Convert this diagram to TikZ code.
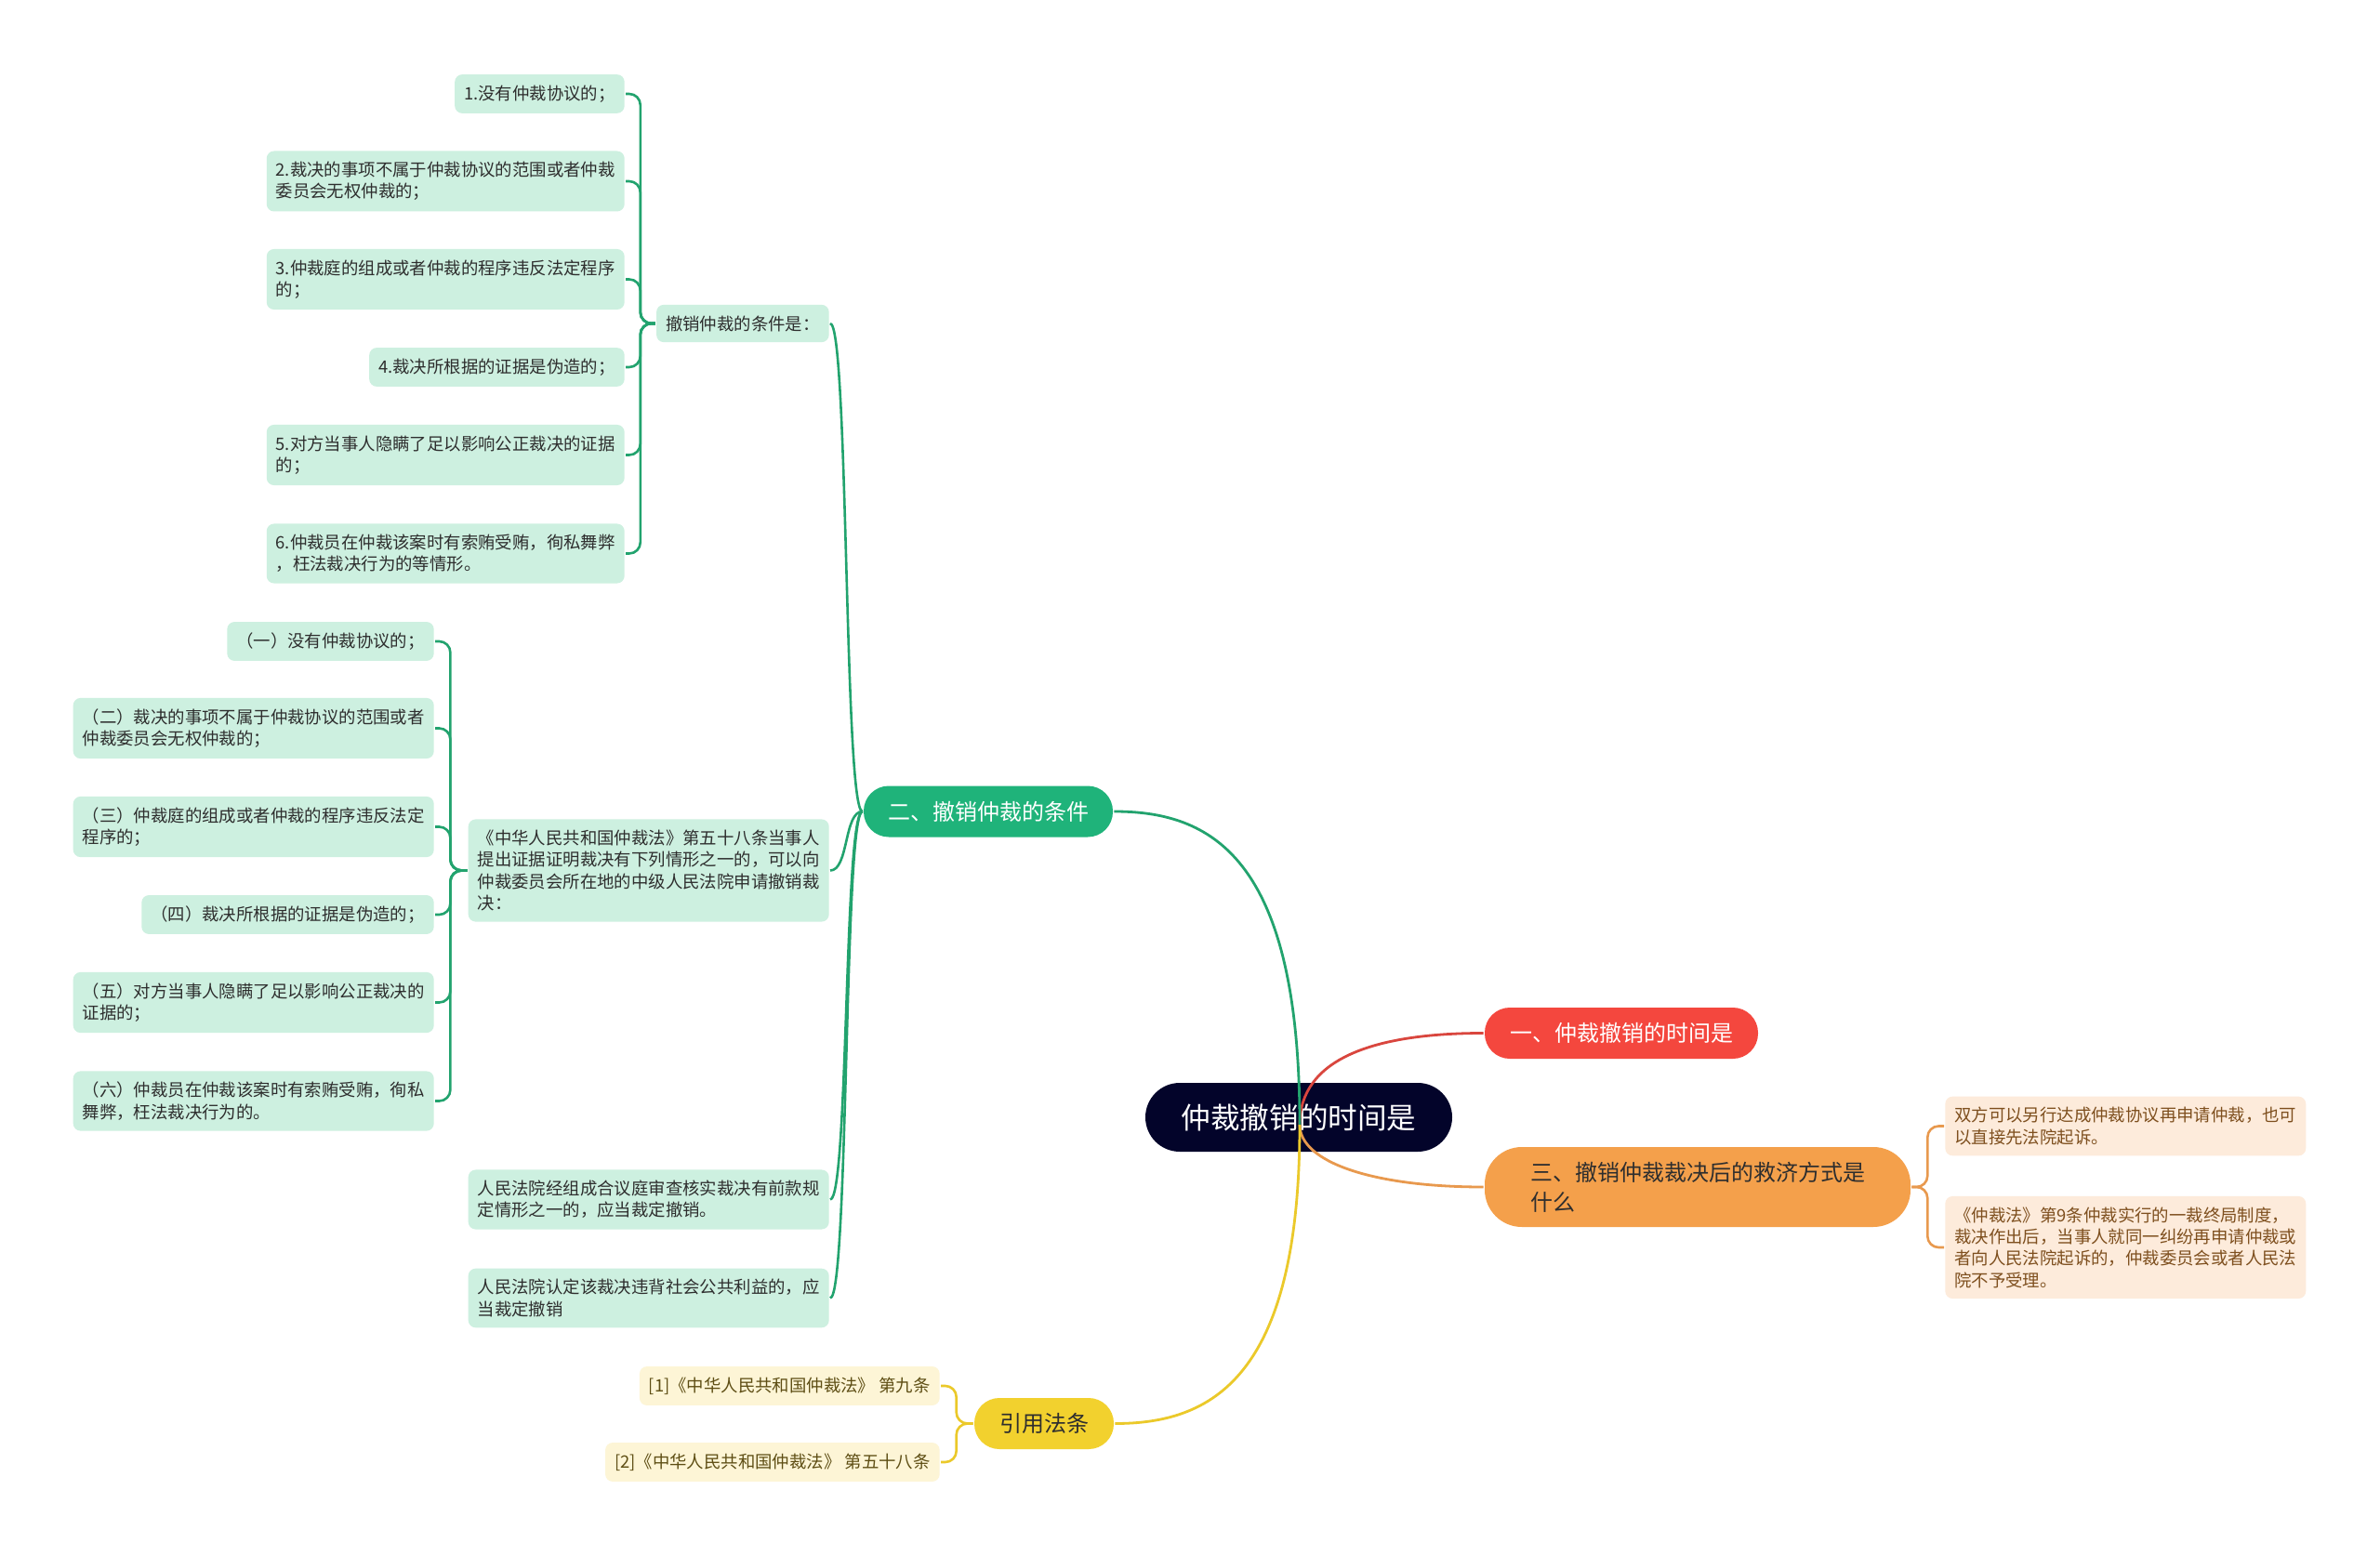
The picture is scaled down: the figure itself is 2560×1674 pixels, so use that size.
\documentclass[tikz,border=0pt]{standalone}
\usepackage{fontspec}
\setmainfont{Noto Sans CJK SC}
\usepackage{tikz}
\definecolor{topicblue}{HTML}{03042A}
\definecolor{secred}{HTML}{F4473E}
\definecolor{secgreen}{HTML}{1FB37A}
\definecolor{secorange}{HTML}{F4A04B}
\definecolor{secyellow}{HTML}{F2D12E}
\definecolor{leafgreen}{HTML}{CDF0E0}
\definecolor{leafpeach}{HTML}{FDEBDB}
\definecolor{leafyellow}{HTML}{FDF5D6}
\definecolor{linered}{HTML}{D9463E}
\definecolor{linegreen}{HTML}{22A36E}
\definecolor{lineorange}{HTML}{E8994E}
\definecolor{lineyellow}{HTML}{EBC92A}
\definecolor{darktext}{HTML}{2E2E2E}
\definecolor{browntext}{HTML}{7E4F1E}
\definecolor{olivetext}{HTML}{5E4E14}
\tikzset{topic/.style = {rectangle, rounded corners=18.5pt, fill=topicblue, text=white, minimum width=165pt, minimum height=37pt, font=\fontsize{15.8}{18}\selectfont}}
\tikzset{section/.style = {rectangle, rounded corners=13.5pt, minimum height=27.5pt, font=\fontsize{12}{16}\selectfont}}
\tikzset{leaf/.style = {rectangle, rounded corners=4pt, anchor=east, align=left, inner xsep=5pt, inner ysep=5.8pt, font=\fontsize{9.2}{11.65}\selectfont}}
\tikzset{greenleaf/.style = {leaf, fill=leafgreen, text=darktext}}
\tikzset{peachleaf/.style = {leaf, anchor=west, fill=leafpeach, text=browntext}}
\tikzset{yellowleaf/.style = {leaf, fill=leafyellow, text=olivetext}}
\tikzset{twig/.style = {rounded corners=6pt, to path={-- ++(#1,0) |- (\tikztotarget)}}}
\tikzset{sweep/.style = {to path={.. controls +(-20,0) and +(20,0) .. (\tikztotarget)}}}

\begin{document}
\begin{tikzpicture}[x=0.5pt, y=-0.5pt, line width=1.3pt]
  \useasboundingbox (0,0) rectangle (2560,1674);
  \fill[white] (0,0) rectangle (2560,1674);

  \node [topic] (root) at (1397,1202) {仲裁撤销的时间是};
  \coordinate (hub) at (1398,1210);

  \node [section, fill=secred, text=white, minimum width=147pt] (sec1) at (1744,1111.5) {一、仲裁撤销的时间是};
  \node [section, fill=secgreen, text=white, minimum width=134pt] (sec2) at (1063,873) {二、撤销仲裁的条件};
  \node [section, fill=secorange, text=darktext, minimum width=229pt, minimum height=43pt, rounded corners=20pt, align=left] (sec3) at (1826,1277) {三、撤销仲裁裁决后的救济方式是\\什么};
  \node [section, fill=secyellow, text=darktext, minimum width=75pt] (ref) at (1123,1531.5) {引用法条};

  \node [greenleaf] (cond) at (893,348) {撤销仲裁的条件是：};
  \node [greenleaf] (law) at (893,936.5) {《中华人民共和国仲裁法》第五十八条当事人\\提出证据证明裁决有下列情形之一的，可以向\\仲裁委员会所在地的中级人民法院申请撤销裁\\决：};
  \node [greenleaf] (court1) at (893,1290.5) {人民法院经组成合议庭审查核实裁决有前款规\\定情形之一的，应当裁定撤销。};
  \node [greenleaf] (court2) at (893,1396.5) {人民法院认定该裁决违背社会公共利益的，应\\当裁定撤销};

  \node [greenleaf] (c1) at (673,101) {1.没有仲裁协议的；};
  \node [greenleaf] (c2) at (673,195) {2.裁决的事项不属于仲裁协议的范围或者仲裁\\委员会无权仲裁的；};
  \node [greenleaf] (c3) at (673,300.5) {3.仲裁庭的组成或者仲裁的程序违反法定程序\\的；};
  \node [greenleaf] (c4) at (673,395) {4.裁决所根据的证据是伪造的；};
  \node [greenleaf] (c5) at (673,489.5) {5.对方当事人隐瞒了足以影响公正裁决的证据\\的；};
  \node [greenleaf] (c6) at (673,595.5) {6.仲裁员在仲裁该案时有索贿受贿，徇私舞弊\\，枉法裁决行为的等情形。};

  \node [greenleaf] (a1) at (468,690) {（一）没有仲裁协议的；};
  \node [greenleaf] (a2) at (468,783.5) {（二）裁决的事项不属于仲裁协议的范围或者\\仲裁委员会无权仲裁的；};
  \node [greenleaf] (a3) at (468,889.5) {（三）仲裁庭的组成或者仲裁的程序违反法定\\程序的；};
  \node [greenleaf] (a4) at (468,984) {（四）裁决所根据的证据是伪造的；};
  \node [greenleaf] (a5) at (468,1078.5) {（五）对方当事人隐瞒了足以影响公正裁决的\\证据的；};
  \node [greenleaf] (a6) at (468,1184.5) {（六）仲裁员在仲裁该案时有索贿受贿，徇私\\舞弊，枉法裁决行为的。};

  \node [peachleaf] (r1) at (2091,1211.5) {双方可以另行达成仲裁协议再申请仲裁，也可\\以直接先法院起诉。};
  \node [peachleaf] (r2) at (2091,1342) {《仲裁法》第9条仲裁实行的一裁终局制度，\\裁决作出后，当事人就同一纠纷再申请仲裁或\\者向人民法院起诉的，仲裁委员会或者人民法\\院不予受理。};

  \node [yellowleaf] (l1) at (1012,1491) {[1]《中华人民共和国仲裁法》 第九条};
  \node [yellowleaf] (l2) at (1012,1573) {[2]《中华人民共和国仲裁法》 第五十八条};

  \draw[linered, line width=1.4pt] (hub) .. controls +(0,-70) and +(-120,0) .. (sec1.west);
  \draw[lineorange, line width=1.4pt] (hub) .. controls +(0,40) and +(-120,0) .. (sec3.west);
  \draw[linegreen, line width=1.4pt] (hub) .. controls +(0,-290) and +(103,0) .. (sec2.east);
  \draw[lineyellow, line width=1.4pt] (hub) .. controls +(0,275) and +(102,0) .. (ref.east);

  \path[draw=linegreen] (sec2.west) edge[sweep] (cond.east);
  \path[draw=linegreen] (sec2.west) edge[sweep] (law.east);
  \path[draw=linegreen] (sec2.west) edge[sweep] (court1.east);
  \path[draw=linegreen] (sec2.west) edge[sweep] (court2.east);

  \path[draw=linegreen] (cond.west) edge[twig=-16] (c1.east);
  \path[draw=linegreen] (cond.west) edge[twig=-16] (c2.east);
  \path[draw=linegreen] (cond.west) edge[twig=-16] (c3.east);
  \path[draw=linegreen] (cond.west) edge[twig=-16] (c4.east);
  \path[draw=linegreen] (cond.west) edge[twig=-16] (c5.east);
  \path[draw=linegreen] (cond.west) edge[twig=-16] (c6.east);

  \path[draw=linegreen] (law.west) edge[twig=-18] (a1.east);
  \path[draw=linegreen] (law.west) edge[twig=-18] (a2.east);
  \path[draw=linegreen] (law.west) edge[twig=-18] (a3.east);
  \path[draw=linegreen] (law.west) edge[twig=-18] (a4.east);
  \path[draw=linegreen] (law.west) edge[twig=-18] (a5.east);
  \path[draw=linegreen] (law.west) edge[twig=-18] (a6.east);

  \path[draw=lineorange] (sec3.east) edge[twig=17] (r1.west);
  \path[draw=lineorange] (sec3.east) edge[twig=17] (r2.west);

  \path[draw=lineyellow] (ref.west) edge[twig=-18] (l1.east);
  \path[draw=lineyellow] (ref.west) edge[twig=-18] (l2.east);
\end{tikzpicture}
\end{document}
